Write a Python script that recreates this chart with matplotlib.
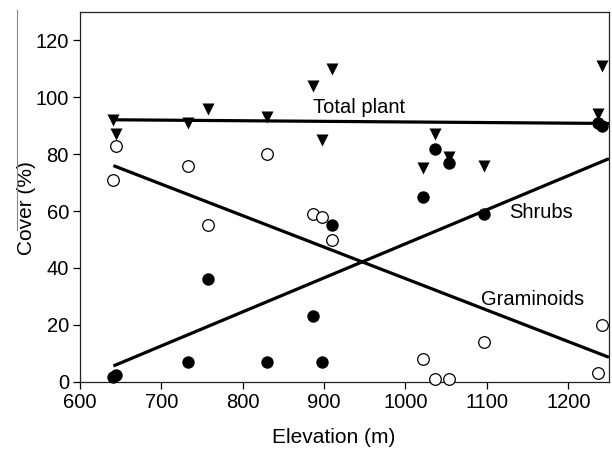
import matplotlib.pyplot as plt
import numpy as np
from matplotlib.lines import Line2D

plt.rcParams['font.family'] = ['Liberation Sans', 'DejaVu Sans']

# site elevations (m) and cover (%) of each group
elevation = [641, 644, 733, 757, 830, 886, 897, 910, 1022, 1036, 1054, 1096, 1237, 1241]
total_plant = [92, 87, 91, 96, 93, 104, 85, 110, 75, 87, 79, 76, 94, 111]
shrubs = [1.5, 2.5, 7, 36, 7, 23, 7, 55, 65, 82, 77, 59, 91, 90]
graminoids = [71, 83, 76, 55, 80, 59, 58, 50, 8, 1, 1, 14, 3, 20]

# fitted lines: intercept, slope
fit_total = (93.47, -0.00213)
fit_shrubs = (-71.2, 0.1197)
fit_gram = (146.95, -0.1107)

fig = plt.figure(figsize=(6.12, 4.5), dpi=100)
ax = fig.add_axes([0.1307, 0.1518, 0.8643, 0.8215])

xs = np.array([min(elevation), 1250])
for b0, b1 in (fit_total, fit_shrubs, fit_gram):
    ax.plot(xs, b0 + b1 * xs, color='black', lw=2.3, solid_capstyle='butt', clip_on=False, zorder=2)

ax.scatter(elevation, total_plant, marker='v', s=75, color='black', linewidths=0, zorder=3, clip_on=False)
ax.scatter(elevation, shrubs, marker='o', s=80, color='black', linewidths=0, zorder=4, clip_on=False)
ax.scatter(elevation, graminoids, marker='o', s=70, facecolor='white', edgecolor='black',
           linewidths=0.9, zorder=5, clip_on=False)

ax.text(886, 96.5, 'Total plant', fontsize=14.5, va='center', ha='left')
ax.text(1127, 59.6, 'Shrubs', fontsize=14.5, va='center', ha='left')
ax.text(1093, 28.9, 'Graminoids', fontsize=14.5, va='center', ha='left')

ax.set_xlim(600, 1250)
ax.set_ylim(0, 130)
ax.set_xticks(np.arange(600, 1201, 100))
ax.set_yticks(np.arange(0, 121, 20))
ax.tick_params(direction='out', length=5, width=0.9, labelsize=14.5, pad=3, colors='black')
for s in ax.spines.values():
    s.set_linewidth(0.9)
    s.set_color('#222222')

ax.set_xlabel('Elevation (m)', fontsize=15)
ax.set_ylabel('Cover (%)', fontsize=15)
ax.xaxis.set_label_coords(0.48, -0.125)
ax.yaxis.set_label_coords(-0.083, 0.47)

# thin grey edge line at far left of the original figure
fig.add_artist(Line2D([17 / 612, 17 / 612], [1 - 10 / 450, 1 - 230 / 450],
                      transform=fig.transFigure, color='#888888', lw=0.8))

fig.savefig('out.png', dpi=100)
